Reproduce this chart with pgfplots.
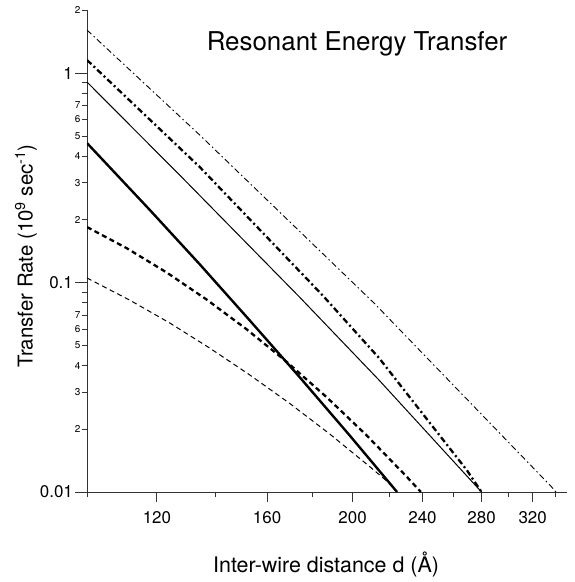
\documentclass[border=0pt]{standalone}
\usepackage{fontspec}
\setmainfont{TeX Gyre Heros}
\usepackage{pgfplots}
\pgfplotsset{compat=1.18}

\begin{document}
\begin{tikzpicture}
\begin{axis}[
    scale only axis,
    width=480bp, height=482bp,
    xmode=log, ymode=log,
    xmin=100, xmax=350, ymin=0.01, ymax=2,
    axis x line*=bottom, axis y line*=left,
    axis line style={line width=0.9bp, black!80},
    tick align=outside,
    tick style={line width=0.9bp, black!80},
    major tick length=5.5bp,
    /pgf/number format/assume math mode=true,
    xtick={100,140,180,220,260,300,340},
    xticklabels={{},{},{},{},{},{},{}},
    ytick={0.02,0.03,0.04,0.05,0.06,0.07,0.08,0.09,0.2,0.3,0.4,0.5,0.6,0.7,0.8,0.9,2},
    yticklabels={2,3,4,5,6,7,{},{},2,3,4,5,6,7,{},{},2},
    yticklabel style={font=\fontsize{10}{12}\selectfont, inner sep=1bp},
    extra x ticks={120,160,200,240,280,320},
    extra x tick labels={120,160,200,240,280,320},
    extra x tick style={major tick length=10bp,
        xticklabel style={font=\fontsize{17}{20}\selectfont, yshift=-6bp}},
    extra y ticks={0.01,0.1,1},
    extra y tick labels={0.01,0.1,1},
    extra y tick style={major tick length=12bp,
        yticklabel style={font=\fontsize{17}{20}\selectfont, inner sep=2bp}},
    title={Resonant Energy Transfer},
    title style={at={(axis description cs:0.5625,0.918)}, anchor=center,
        font=\fontsize{26}{30}\selectfont},
    xlabel={Inter-wire distance d (Å)},
    xlabel style={at={(axis description cs:0.498,-0.151)}, anchor=center,
        font=\fontsize{21.5}{25}\selectfont},
    ylabel={Transfer Rate (10\textsuperscript{9} sec\textsuperscript{-1})},
    ylabel style={at={(axis description cs:-0.127,0.49)}, anchor=center,
        font=\fontsize{20.5}{24}\selectfont},
]
% thin dash-dot
\addplot[black, line width=0.9bp, dash pattern=on 6bp off 3bp on 1.5bp off 3bp]
coordinates {(100,1.604) (134.2,0.506) (211.5,0.0798) (336,0.0106) (340,0.0100)};
% thick dash-dot
\addplot[black, line width=2.3bp, dash pattern=on 6bp off 3bp on 2bp off 3bp]
coordinates {(100,1.154) (134.2,0.356) (184.8,0.0872) (214.3,0.0436) (269.5,0.0127) (280,0.0100)};
% thin solid
\addplot[black, line width=1bp]
coordinates {(100,0.906) (129,0.3085) (174.1,0.0853) (214.3,0.0342) (280,0.0100)};
% thick solid
\addplot[black, line width=2.4bp]
coordinates {(100,0.463) (117.8,0.2221) (134.2,0.1222) (152.8,0.0662) (174.1,0.03543) (198.3,0.01871) (224.6,0.0100)};
% thick dashed
\addplot[black, line width=2.3bp, dash pattern=on 5bp off 3.5bp]
coordinates {(100,0.1840) (111.0,0.1456) (123.1,0.1117) (136.6,0.0830) (151.6,0.0599) (168.3,0.0419) (186.7,0.02848) (207.2,0.01874) (229.9,0.01193) (239.0,0.0100)};
% thin dashed
\addplot[black, line width=1bp, dash pattern=on 5bp off 3.5bp]
coordinates {(100,0.1051) (111.8,0.0824) (124.1,0.0641) (137.7,0.0487) (152.8,0.0363) (169.6,0.02654) (188.2,0.01900) (208.8,0.01329) (220.0,0.01104) (221.5,0.0107)};
\end{axis}
\path ([shift={(-87bp,-90bp)}]current axis.south west) rectangle ([shift={(8bp,10bp)}]current axis.north east);
\end{tikzpicture}
\end{document}
